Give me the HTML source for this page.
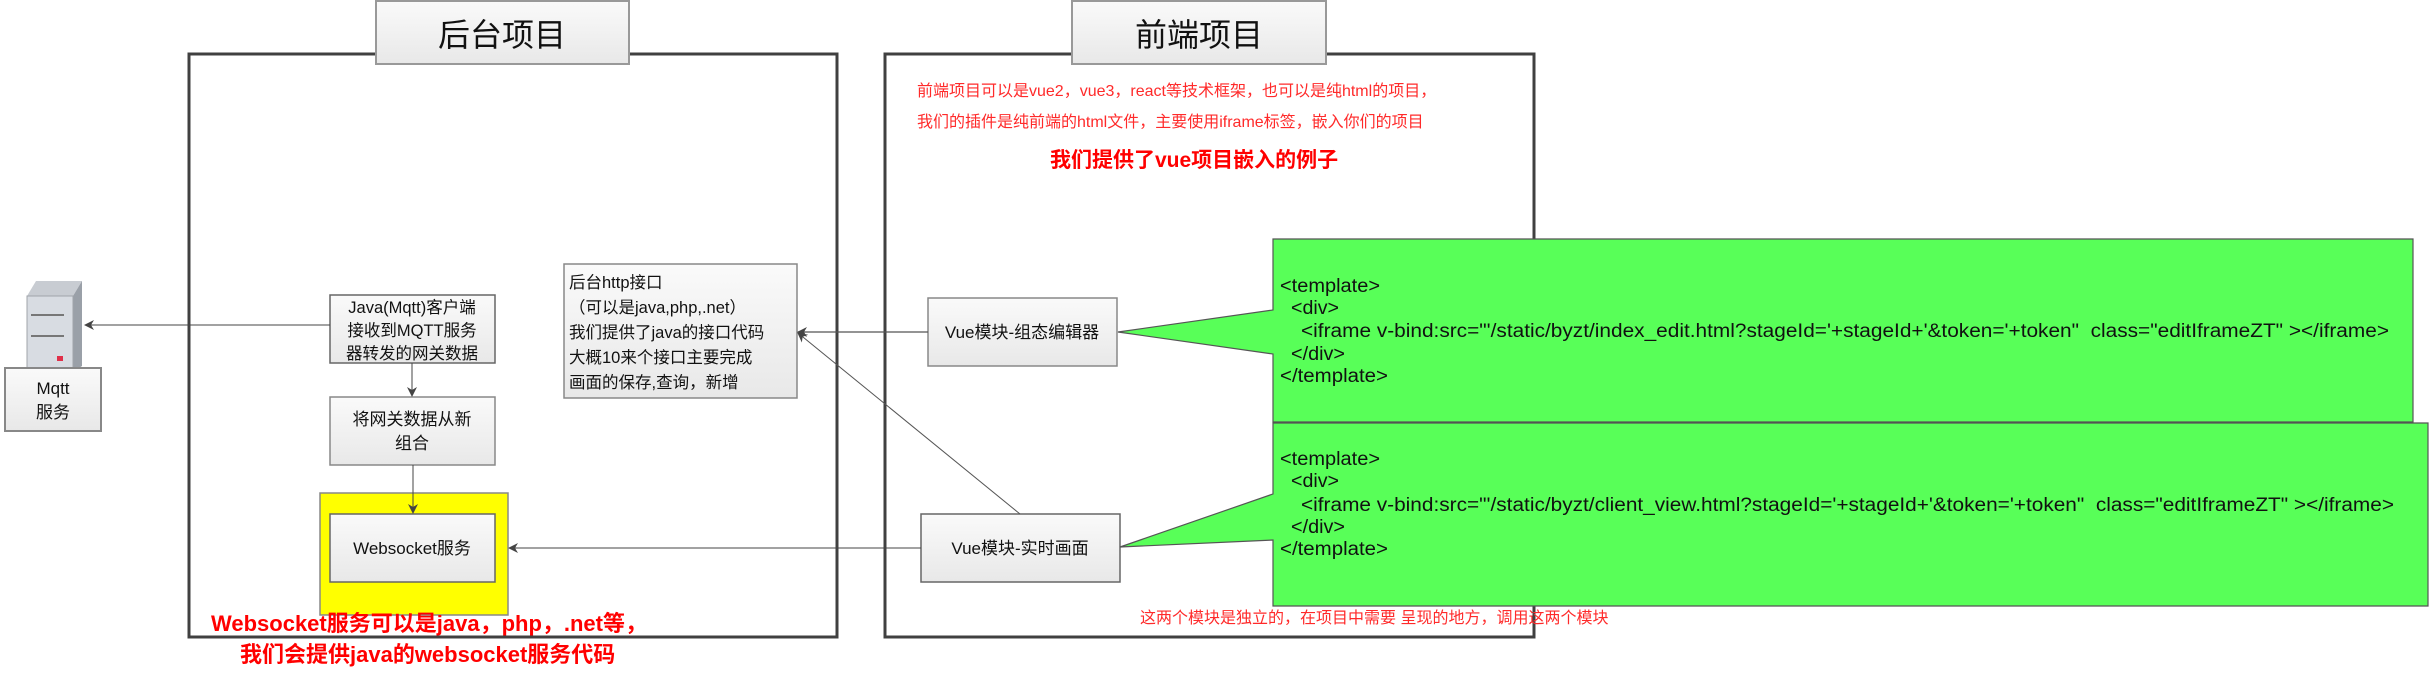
<!DOCTYPE html>
<html><head><meta charset="utf-8"><style>
html,body{margin:0;padding:0;background:#fff;}
svg{display:block;}
text{font-family:"Liberation Sans","Noto Sans CJK SC",sans-serif;}
</style></head><body>
<svg width="2434" height="680" viewBox="0 0 2434 680" xmlns="http://www.w3.org/2000/svg">
<defs>
<linearGradient id="g" x1="0" y1="0" x2="0" y2="1"><stop offset="0" stop-color="#fafafa"/><stop offset="1" stop-color="#e8e8e8"/></linearGradient>
<marker id="ah" markerWidth="10" markerHeight="10" refX="9" refY="5" orient="auto" markerUnits="userSpaceOnUse"><path d="M0,0 L10,5 L0,10 L3,5 z" fill="#444"/></marker>
</defs>
<rect x="189" y="54" width="648" height="583" fill="none" stroke="#404040" stroke-width="3"/>
<rect x="885" y="54" width="649" height="583" fill="none" stroke="#404040" stroke-width="3"/>
<rect x="376" y="1" width="253" height="63" fill="url(#g)" stroke="#999" stroke-width="2"/>
<text x="502" y="46" font-size="32" text-anchor="middle" fill="#111">后台项目</text>
<rect x="1072" y="1" width="254" height="63" fill="url(#g)" stroke="#999" stroke-width="2"/>
<text x="1199" y="46" font-size="32" text-anchor="middle" fill="#111">前端项目</text>
<!-- server icon -->
<polygon points="27,296 36,281 82,281 73,296" fill="#c8ccd2"/>
<polygon points="73,296 82,281 82,366 73,372" fill="#9aa0a8"/>
<rect x="27" y="296" width="46" height="76" fill="#d8dce2" stroke="#a0a4aa"/>
<line x1="31" y1="315" x2="64" y2="315" stroke="#777" stroke-width="2"/>
<line x1="31" y1="336" x2="64" y2="336" stroke="#777" stroke-width="2"/>
<rect x="57" y="356" width="6" height="5" fill="#e0304a"/>
<rect x="5" y="368" width="96" height="63" fill="url(#g)" stroke="#888" stroke-width="2"/>
<text x="53" y="394" font-size="17" text-anchor="middle" fill="#111">Mqtt</text>
<text x="53" y="418" font-size="17" text-anchor="middle" fill="#111">服务</text>
<rect x="330" y="295" width="165" height="68" fill="url(#g)" stroke="#666" stroke-width="1.5"/>
<text font-size="16.5" text-anchor="middle" fill="#111"><tspan x="412" y="313">Java(Mqtt)客户端</tspan><tspan x="412" y="336">接收到MQTT服务</tspan><tspan x="412" y="359">器转发的网关数据</tspan></text>
<rect x="330" y="397" width="165" height="68" fill="url(#g)" stroke="#888" stroke-width="1.5"/>
<text font-size="17" text-anchor="middle" fill="#111"><tspan x="412" y="425">将网关数据从新</tspan><tspan x="412" y="449">组合</tspan></text>
<rect x="320" y="493" width="188" height="122" fill="#ffff00" stroke="#888" stroke-width="1.5"/>
<rect x="330" y="514" width="165" height="68" fill="url(#g)" stroke="#666" stroke-width="1.5"/>
<text x="412" y="554" font-size="17" text-anchor="middle" fill="#111">Websocket服务</text>
<rect x="564" y="264" width="233" height="134" fill="url(#g)" stroke="#888" stroke-width="1.5"/>
<text font-size="16.5" fill="#111"><tspan x="569" y="288">后台http接口</tspan><tspan x="569" y="313">（可以是java,php,.net）</tspan><tspan x="569" y="338">我们提供了java的接口代码</tspan><tspan x="569" y="363">大概10来个接口主要完成</tspan><tspan x="569" y="388">画面的保存,查询，新增</tspan></text>
<line x1="330" y1="325" x2="85" y2="325" stroke="#444" stroke-width="1" marker-end="url(#ah)"/>
<line x1="412" y1="363" x2="412" y2="396" stroke="#444" stroke-width="1" marker-end="url(#ah)"/>
<line x1="413" y1="465" x2="413" y2="513" stroke="#444" stroke-width="1" marker-end="url(#ah)"/>
<text x="211" y="631" font-size="22" font-weight="bold" fill="#ff0000">Websocket服务可以是java，php，.net等，</text>
<text x="240" y="662" font-size="22" font-weight="bold" fill="#ff0000">我们会提供java的websocket服务代码</text>
<text x="917" y="96" font-size="16" fill="#ff2a2a">前端项目可以是vue2，vue3，react等技术框架，也可以是纯html的项目，</text>
<text x="917" y="127" font-size="16" fill="#ff2a2a">我们的插件是纯前端的html文件，主要使用iframe标签，嵌入你们的项目</text>
<text x="1050" y="167" font-size="21" font-weight="bold" fill="#ff0000">我们提供了vue项目嵌入的例子</text>
<rect x="928" y="298" width="189" height="68" fill="url(#g)" stroke="#888" stroke-width="1.5"/>
<text x="1022" y="338" font-size="17" text-anchor="middle" fill="#111">Vue模块-组态编辑器</text>
<rect x="921" y="514" width="199" height="68" fill="url(#g)" stroke="#666" stroke-width="1.5"/>
<text x="1020" y="554" font-size="17" text-anchor="middle" fill="#111">Vue模块-实时画面</text>
<line x1="928" y1="332" x2="798" y2="332" stroke="#555" stroke-width="1.2" marker-end="url(#ah)"/>
<line x1="921" y1="548" x2="509" y2="548" stroke="#444" stroke-width="1" marker-end="url(#ah)"/>
<line x1="1020" y1="514" x2="798" y2="333" stroke="#555" stroke-width="1" marker-end="url(#ah)"/>
<polygon points="1273,239 2413,239 2413,422 1273,422 1273,354 1118,332 1273,310" fill="#58ff58" stroke="#555" stroke-width="1.2"/>
<polygon points="1273,423 2428,423 2428,606 1273,606 1273,540 1120,547 1273,494" fill="#58ff58" stroke="#555" stroke-width="1.2"/>
<text font-size="19" fill="#111" xml:space="preserve"><tspan x="1280" y="292" textLength="100" lengthAdjust="spacingAndGlyphs">&lt;template&gt;</tspan><tspan x="1291" y="314" textLength="48" lengthAdjust="spacingAndGlyphs">&lt;div&gt;</tspan><tspan x="1301" y="337" textLength="1088" lengthAdjust="spacingAndGlyphs">&lt;iframe v-bind:src="'/static/byzt/index_edit.html?stageId='+stageId+'&amp;token='+token"  class="editIframeZT" &gt;&lt;/iframe&gt;</tspan><tspan x="1291" y="360" textLength="54" lengthAdjust="spacingAndGlyphs">&lt;/div&gt;</tspan><tspan x="1280" y="382" textLength="108" lengthAdjust="spacingAndGlyphs">&lt;/template&gt;</tspan></text>
<text font-size="19" fill="#111" xml:space="preserve"><tspan x="1280" y="465" textLength="100" lengthAdjust="spacingAndGlyphs">&lt;template&gt;</tspan><tspan x="1291" y="487" textLength="48" lengthAdjust="spacingAndGlyphs">&lt;div&gt;</tspan><tspan x="1301" y="511" textLength="1093" lengthAdjust="spacingAndGlyphs">&lt;iframe v-bind:src="'/static/byzt/client_view.html?stageId='+stageId+'&amp;token='+token"  class="editIframeZT" &gt;&lt;/iframe&gt;</tspan><tspan x="1291" y="533" textLength="54" lengthAdjust="spacingAndGlyphs">&lt;/div&gt;</tspan><tspan x="1280" y="555" textLength="108" lengthAdjust="spacingAndGlyphs">&lt;/template&gt;</tspan></text>
<text x="1140" y="623" font-size="16" fill="#ff2a2a">这两个模块是独立的，在项目中需要 呈现的地方，调用这两个模块</text>
</svg>
</body></html>
